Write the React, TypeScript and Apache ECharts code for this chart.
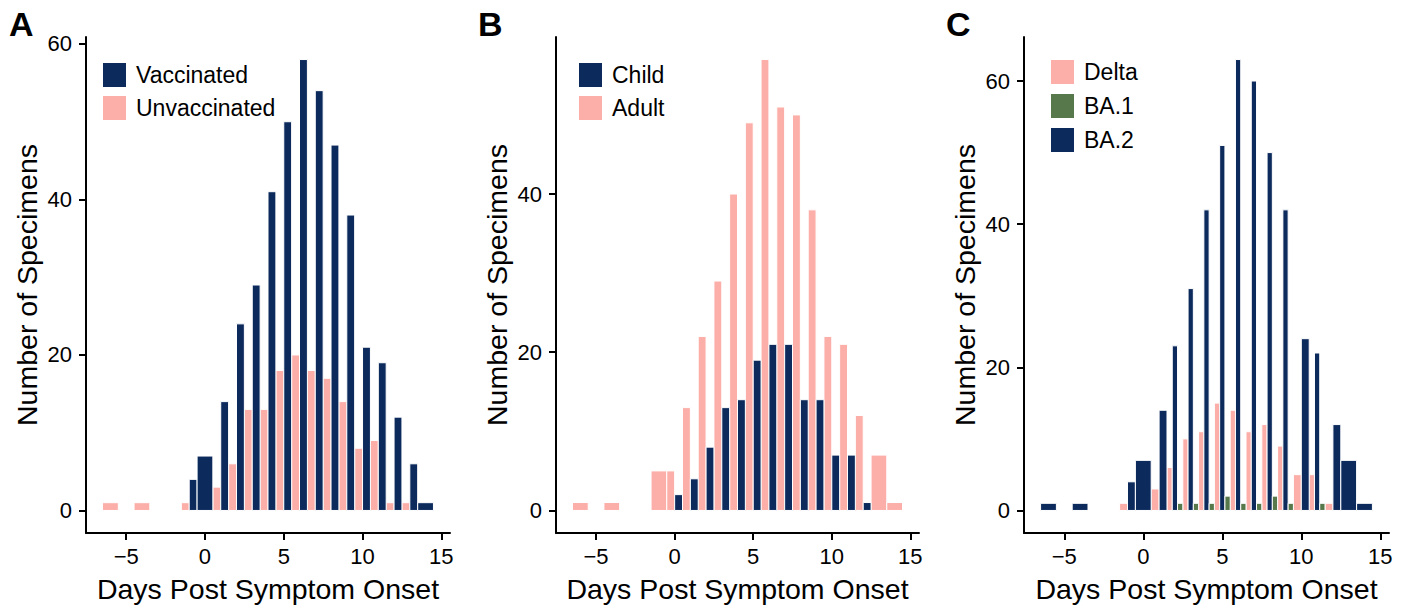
import React, { useEffect, useRef } from "react";
import * as echarts from "echarts";

// Day bins (centre of each 1-day bin)
const days = [-6, -5, -4, -3, -2, -1, 0, 1, 2, 3, 4, 5, 6, 7, 8, 9, 10, 11, 12, 13, 14];

// Panel A
const vaccinated = [0, 0, 0, 0, 0, 4, 7, 14, 24, 29, 41, 50, 58, 54, 47, 38, 21, 19, 12, 6, 1];
const unvaccinated = [1, 0, 1, 0, 0, 1, 0, 3, 6, 13, 13, 18, 20, 18, 17, 14, 8, 9, 1, 1, 0];

// Panel B
const child = [0, 0, 0, 0, 0, 0, 2, 4, 8, 13, 14, 19, 21, 21, 14, 14, 7, 7, 1, 0, 0];
const adult = [1, 0, 1, 0, 0, 5, 5, 13, 22, 29, 40, 49, 57, 51, 50, 38, 22, 21, 12, 7, 1];

// Panel C
const delta = [0, 0, 0, 0, 0, 1, 0, 3, 6, 10, 11, 15, 14, 11, 12, 9, 5, 5, 1, 0, 0];
const ba1 = [0, 0, 0, 0, 0, 0, 0, 0, 1, 1, 1, 2, 1, 1, 2, 1, 0, 1, 0, 0, 0];
const ba2 = [1, 0, 1, 0, 0, 4, 7, 14, 23, 31, 42, 51, 63, 60, 50, 42, 24, 22, 12, 7, 1];

const xTicks = [-5, 0, 5, 10, 15];
const yTicksA = [0, 20, 40, 60];
const yTicksB = [0, 20, 40];
const yTicksC = [0, 20, 40, 60];

const NAVY = "#0c2a5c";
const PINK = "#fcaea8";
const GREEN = "#56784a";
const FONT = "'Liberation Sans', Arial, Helvetica, sans-serif";

// groups listed in dodge order (left to right within a bin)
function dodge(groups: number[][]): number[][][] {
  return groups.map((vals, gi) => {
    const items: number[][] = [];
    days.forEach((d, i) => {
      if (vals[i] <= 0) return;
      const present = groups.map((g) => g[i] > 0);
      const n = present.filter(Boolean).length;
      let slot = 0;
      for (let k = 0; k < gi; k++) if (present[k]) slot++;
      items.push([d, vals[i], slot, n]);
    });
    return items;
  });
}

const renderBar = (_params: any, api: any) => {
  const day = api.value(0);
  const cnt = api.value(1);
  const slot = api.value(2);
  const n = api.value(3);
  const tl = api.coord([day - 0.5 + slot / n, cnt]);
  const br = api.coord([day - 0.5 + (slot + 1) / n, 0]);
  return {
    type: "rect",
    shape: { x: tl[0], y: tl[1], width: br[0] - tl[0], height: br[1] - tl[1] },
    style: { fill: api.visual("color"), stroke: "#ffffff", lineWidth: 1 },
  };
};

export default function App() {
  const ref = useRef<HTMLDivElement>(null);
  useEffect(() => {
    if (!ref.current) return;
    const chart = echarts.init(ref.current, undefined, { renderer: "svg" });

    const grids = [
      { left: 86, top: 37, width: 364, height: 496 },
      { left: 556, top: 37, width: 363, height: 496 },
      { left: 1024, top: 37, width: 365, height: 496 },
    ];
    const yRanges = [
      { min: -2.9, max: 60.9, ticks: yTicksA },
      { min: -2.85, max: 59.85, ticks: yTicksB },
      { min: -3.15, max: 66.15, ticks: yTicksC },
    ];

    const axisLine = { show: true, onZero: false, lineStyle: { color: "#000", width: 2 } };
    const axisTickBase = { show: true, length: 7, lineStyle: { color: "#000", width: 2 } };

    const xAxis = grids.map((_, i) => ({
      type: "value",
      gridIndex: i,
      min: -7.55,
      max: 15.55,
      axisLine,
      axisTick: { ...axisTickBase, customValues: xTicks },
      axisLabel: {
        customValues: xTicks,
        fontSize: 22,
        color: "#000",
        fontFamily: FONT,
        margin: 12,
        formatter: (v: number) => String(v).replace("-", "\u2212"),
      },
      splitLine: { show: false },
      name: "Days Post Symptom Onset",
      nameLocation: "middle",
      nameGap: 41,
      nameTextStyle: { fontSize: 28.5, color: "#000", fontFamily: FONT },
    }));

    const yAxis = grids.map((_, i) => ({
      type: "value",
      gridIndex: i,
      min: yRanges[i].min,
      max: yRanges[i].max,
      axisLine,
      axisTick: { ...axisTickBase, customValues: yRanges[i].ticks },
      axisLabel: {
        customValues: yRanges[i].ticks,
        fontSize: 22,
        color: "#000",
        fontFamily: FONT,
        margin: 14,
      },
      splitLine: { show: false },
      name: "Number of Specimens",
      nameLocation: "middle",
      nameGap: 45,
      nameTextStyle: { fontSize: 28.5, color: "#000", fontFamily: FONT },
    }));

    const panels = [
      { groups: [unvaccinated, vaccinated], names: ["Unvaccinated", "Vaccinated"], colors: [PINK, NAVY] },
      { groups: [adult, child], names: ["Adult", "Child"], colors: [PINK, NAVY] },
      { groups: [delta, ba2, ba1], names: ["Delta", "BA.2", "BA.1"], colors: [PINK, NAVY, GREEN] },
    ];

    const series: any[] = [];
    panels.forEach((p, pi) => {
      const items = dodge(p.groups);
      items.forEach((data, gi) => {
        series.push({
          type: "custom",
          name: p.names[gi],
          xAxisIndex: pi,
          yAxisIndex: pi,
          itemStyle: { color: p.colors[gi] },
          encode: { x: 0, y: 1 },
          data,
          renderItem: renderBar,
          clip: false,
        });
      });
    });

    const legendBase = {
      orient: "vertical",
      icon: "rect",
      padding: 0,
      itemWidth: 23,
      itemHeight: 24,
      itemGap: 9,
      selectedMode: false,
      textStyle: { fontSize: 23, color: "#000", fontFamily: FONT, padding: [0, 0, 0, 5] },
    };

    const legend = [
      { ...legendBase, left: 103, top: 63, data: ["Vaccinated", "Unvaccinated"] },
      { ...legendBase, left: 579, top: 63, data: ["Child", "Adult"] },
      { ...legendBase, left: 1051, top: 60, itemGap: 10, data: ["Delta", "BA.1", "BA.2"] },
    ];

    const letterStyle = { fontSize: 34, fontWeight: "bold", fill: "#000", fontFamily: FONT };
    const graphic = [
      { type: "text", left: 9, top: 7, style: { ...letterStyle, text: "A" } },
      { type: "text", left: 478, top: 7, style: { ...letterStyle, text: "B" } },
      { type: "text", left: 946, top: 7, style: { ...letterStyle, text: "C" } },
    ];

    chart.setOption({
      animation: false,
      backgroundColor: "#ffffff",
      grid: grids,
      xAxis,
      yAxis,
      legend,
      graphic,
      series,
    });
    return () => chart.dispose();
  }, []);
  return (
    <div
      ref={ref}
      style={{ position: "fixed", left: 0, top: 0, width: 1407, height: 610, background: "#fff" }}
    />
  );
}
